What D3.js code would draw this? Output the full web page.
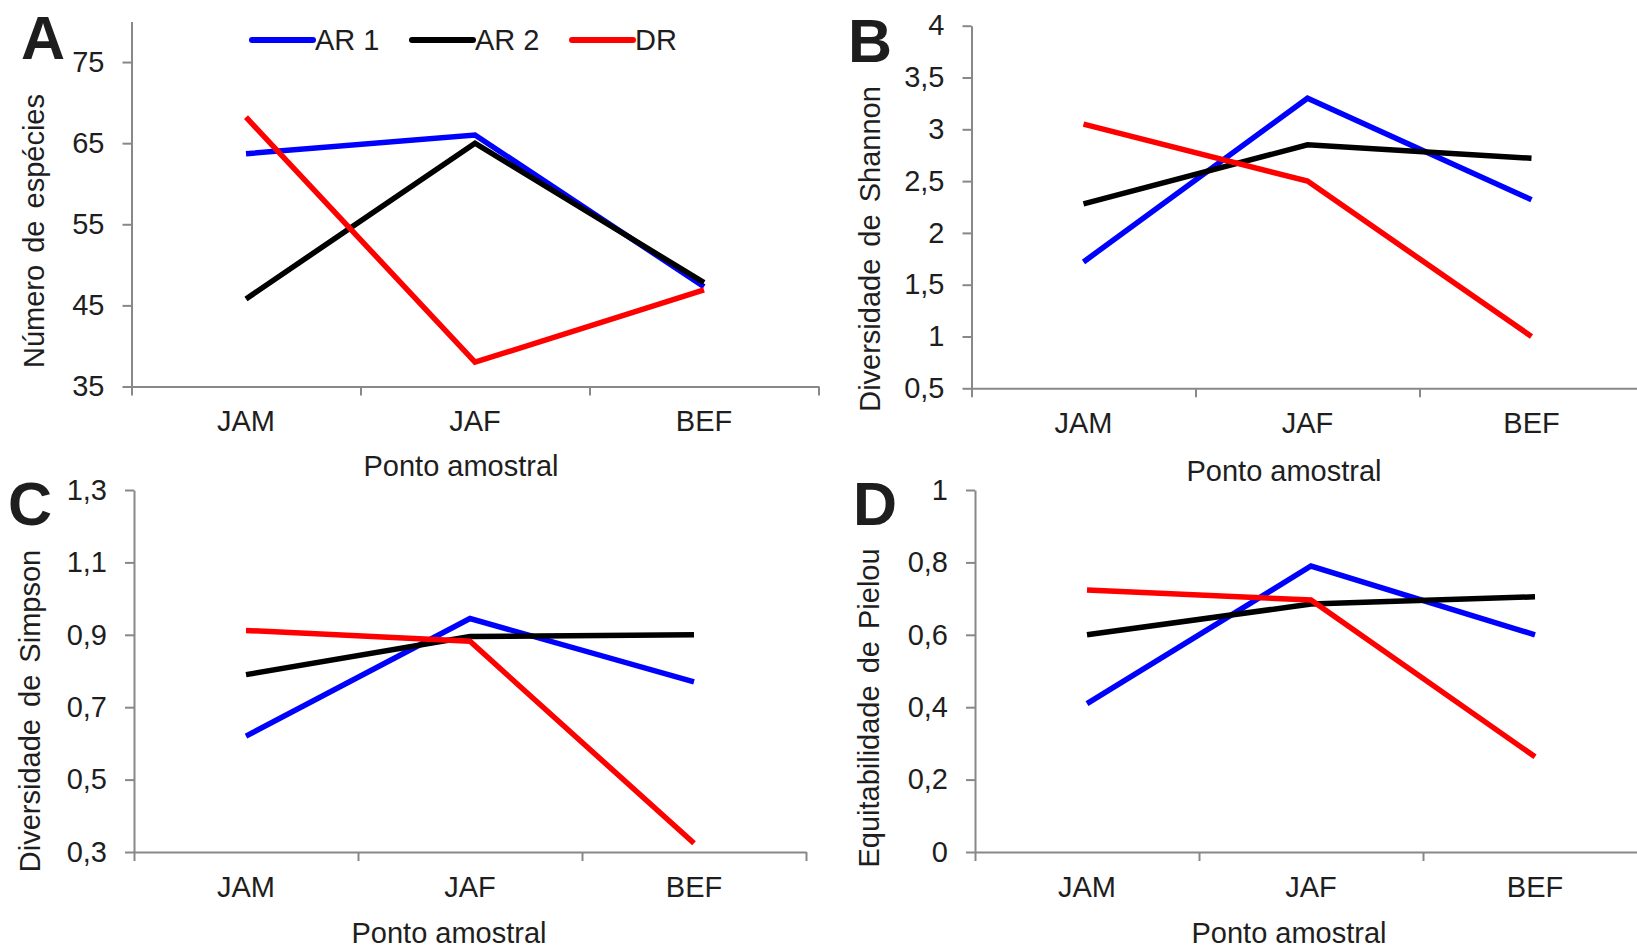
<!DOCTYPE html>
<html>
<head>
<meta charset="utf-8">
<script src="https://cdn.jsdelivr.net/npm/d3@7"></script>
<style>
  body { margin: 0; background: #fff; }
  svg { display: block; }
  text { font-family: 'Liberation Sans', Arial, sans-serif; fill: #1e1e1e; }
</style>
</head>
<body>
<svg id="chart" width="1637" height="948"></svg>
<script>
const categories = ['JAM', 'JAF', 'BEF']
const seriesNames = ['AR 1', 'AR 2', 'DR']
const seriesColors = ['#0000ff', '#000000', '#ff0000']

// values per series, in the order of seriesNames
const especies = [[63.7, 66, 47.3], [45.8, 65, 47.8], [68.2, 38, 46.9]]
const shannon = [[1.72, 3.3, 2.32], [2.28, 2.85, 2.72], [3.05, 2.5, 1.0]]
const simpson = [[0.62, 0.945, 0.77], [0.79, 0.895, 0.9], [0.912, 0.882, 0.324]]
const pielou = [[0.41, 0.79, 0.6], [0.6, 0.685, 0.705], [0.724, 0.696, 0.263]]

const ticksA = [35, 45, 55, 65, 75]
const ticksB = [0.5, 1, 1.5, 2, 2.5, 3, 3.5, 4]
const ticksC = [0.3, 0.5, 0.7, 0.9, 1.1, 1.3]
const ticksD = [0, 0.2, 0.4, 0.6, 0.8, 1]

const xTitle = 'Ponto amostral'
const fmt = d => String(+d.toFixed(2)).replace('.', ',')

const panels = [
  { letter: 'A', data: especies, ticks: ticksA, domain: [35, 80], yTitle: 'Número de espécies',
    letterPos: [21, 59], x0: 131.5, x1: 818.5, yBot: 386.5, yTop: 21.5,
    yTitlePos: [44, 231], xTitlePos: [461, 476] },
  { letter: 'B', data: shannon, ticks: ticksB, domain: [0.5, 4], yTitle: 'Diversidade de Shannon',
    letterPos: [848, 62], x0: 971.5, x1: 1643.5, yBot: 388.3, yTop: 25.7,
    yTitlePos: [880, 249], xTitlePos: [1284, 481] },
  { letter: 'C', data: simpson, ticks: ticksC, domain: [0.3, 1.3], yTitle: 'Diversidade de Simpson',
    letterPos: [8, 525], x0: 134, x1: 806, yBot: 852, yTop: 490,
    yTitlePos: [40, 711], xTitlePos: [449, 943] },
  { letter: 'D', data: pielou, ticks: ticksD, domain: [0, 1], yTitle: 'Equitabilidade de Pielou',
    letterPos: [853, 525], x0: 975, x1: 1647, yBot: 852, yTop: 490,
    yTitlePos: [879, 708], xTitlePos: [1289, 943] }
]

const svg = d3.select('#chart')
svg.append('rect').attr('width', 1637).attr('height', 948).attr('fill', '#fff')

const styleAxis = g => {
  g.selectAll('path, line').attr('stroke', '#888').attr('stroke-width', 2)
  g.selectAll('text').attr('font-size', 29).attr('fill', '#1e1e1e')
    .attr('font-family', "'Liberation Sans', Arial, sans-serif")
}

panels.forEach(p => {
  const g = svg.append('g')

  const y = d3.scaleLinear().domain(p.domain).range([p.yBot, p.yTop])
  const x = d3.scaleBand().domain(categories).range([p.x0, p.x1])
  const xEdge = d3.scaleLinear().domain([0, categories.length]).range([p.x0, p.x1])

  // x axis: boundary ticks
  g.append('g')
    .attr('transform', `translate(0,${p.yBot})`)
    .call(d3.axisBottom(xEdge).tickValues(d3.range(categories.length + 1))
      .tickFormat('').tickSize(9).tickSizeOuter(0))
    .call(styleAxis)

  // x axis: category labels
  g.append('g')
    .attr('transform', `translate(0,${p.yBot})`)
    .call(d3.axisBottom(x).tickSize(0).tickPadding(24))
    .call(g => g.select('.domain').remove())
    .call(styleAxis)

  // y axis
  g.append('g')
    .attr('transform', `translate(${p.x0},0)`)
    .call(d3.axisLeft(y).tickValues(p.ticks).tickFormat(fmt)
      .tickSize(9).tickSizeOuter(0).tickPadding(18))
    .call(styleAxis)

  const line = d3.line()
    .x((d, i) => x(categories[i]) + x.bandwidth() / 2)
    .y(d => y(d))

  g.selectAll('.series')
    .data(p.data)
    .join('path')
    .attr('class', 'series')
    .attr('d', line)
    .attr('fill', 'none')
    .attr('stroke', (d, i) => seriesColors[i])
    .attr('stroke-width', 5.5)
    .attr('stroke-linejoin', 'miter')

  g.append('text')
    .attr('x', p.letterPos[0]).attr('y', p.letterPos[1])
    .attr('font-size', 61).attr('font-weight', 'bold').attr('fill', '#000')
    .text(p.letter)

  g.append('text')
    .attr('transform', `translate(${p.yTitlePos[0]},${p.yTitlePos[1]}) rotate(-90)`)
    .attr('text-anchor', 'middle')
    .attr('font-size', 29)
    .attr('word-spacing', 4)
    .text(p.yTitle)

  g.append('text')
    .attr('x', p.xTitlePos[0]).attr('y', p.xTitlePos[1])
    .attr('text-anchor', 'middle')
    .attr('font-size', 29)
    .text(xTitle)
})

// legend in panel A
const legend = svg.append('g')
  .selectAll('g')
  .data(seriesNames)
  .join('g')
  .attr('transform', (d, i) => `translate(${252 + i * 160},40)`)

legend.append('line')
  .attr('x1', 0).attr('x2', 61)
  .attr('stroke', (d, i) => seriesColors[i])
  .attr('stroke-width', 6)
  .attr('stroke-linecap', 'round')

legend.append('text')
  .attr('x', 63).attr('y', 10)
  .attr('font-size', 29)
  .text(d => d)
</script>
</body>
</html>
